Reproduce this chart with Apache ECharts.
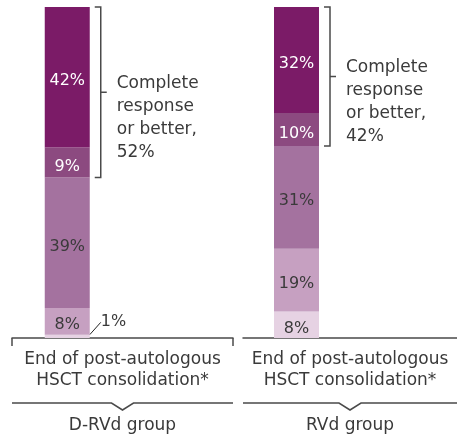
<!DOCTYPE html>
<html>
<head>
<meta charset="utf-8">
<script src="https://cdn.jsdelivr.net/npm/echarts@6/dist/echarts.min.js"></script>
<style>
  html, body { margin: 0; padding: 0; background: #fff; }
</style>
</head>
<body>
<div id="chart" style="width: 457px; height: 440px"></div>
<script>
// response levels, bottom of the bar first
const levels = ["Other", "Partial response", "Very good partial response", "Complete response", "Stringent complete response"];
const levelColors = ["#e6d2e3", "#c6a0c1", "#a4729f", "#8c4a80", "#7b1b67"];
const levelTextColors = ["#3a3a3a", "#3a3a3a", "#3a3a3a", "#ffffff", "#ffffff"];

const timepoint = "End of post-autologous\nHSCT consolidation*";
const groups = ["D-RVd group", "RVd group"];
// values per group, same order as levels (bottom first)
const dRVdValues = [1, 8, 39, 9, 42];
const rvdValues = [8, 19, 31, 10, 32];
const groupValues = [dRVdValues, rvdValues];
// bracket text (complete response or better)
const crLabels = ["Complete\nresponse\nor better,\n52%", "Complete\nresponse\nor better,\n42%"];

const FONT = "DejaVu Sans";
const TEXT = "#3a3a3a";
const LINE = "#4a4a4a";
const grids = [
  { left: 12, right: 224, top: 7, bottom: 102, outerBoundsMode: "none" },
  { left: 243, right: 0, top: 7, bottom: 102, outerBoundsMode: "none" }
];
const BAR_W = 45;

const xAxis = [];
const yAxis = [];
const series = [];
groups.forEach((g, gi) => {
  const total = groupValues[gi].reduce((a, b) => a + b, 0);
  // bar sits in the first half of the group's axis
  xAxis.push({
    type: "category", gridIndex: gi, data: [timepoint, ""],
    axisLine: { lineStyle: { color: LINE, width: 1.5 } },
    axisTick: { show: false }, axisLabel: { show: false },
    name: timepoint, nameLocation: "middle", nameGap: 11,
    nameTextStyle: { fontFamily: FONT, fontSize: 17, color: TEXT, lineHeight: 21 }
  });
  yAxis.push({ type: "value", gridIndex: gi, min: 0, max: total, show: false });
  levels.forEach((lv, li) => {
    const v = groupValues[gi][li];
    const small = v < 3;
    const s = {
      name: lv, type: "bar", stack: "g" + gi,
      xAxisIndex: gi, yAxisIndex: gi, barWidth: BAR_W,
      data: [v, null],
      itemStyle: { color: levelColors[li] },
      label: {
        show: true, position: small ? "right" : "inside",
        formatter: "{c}%", fontFamily: FONT, fontSize: 16,
        color: small ? TEXT : levelTextColors[li], offset: [0, 4]
      }
    };
    if (small) {
      s.labelLayout = { dx: 6, dy: -14 };
      s.labelLine = { show: true, length2: 0, lineStyle: { color: "#222", width: 1 } };
    }
    series.push(s);
  });
});
// second axis per grid just to carry the group name
groups.forEach((g, gi) => {
  xAxis.push({
    type: "category", gridIndex: gi, data: [""], position: "bottom", offset: 65,
    axisLine: { show: false }, axisTick: { show: false }, axisLabel: { show: false },
    name: g, nameLocation: "middle", nameGap: 14,
    nameTextStyle: { fontFamily: FONT, fontSize: 17, color: TEXT }
  });
});

const myChart = echarts.init(document.getElementById("chart"), null, { renderer: "canvas" });
myChart.setOption({
  animation: false,
  grid: grids,
  xAxis: xAxis,
  yAxis: yAxis,
  series: series
});

// brackets, axis end ticks and braces
const W = 457, H = 440;
const graphic = [];
groups.forEach((g, gi) => {
  const vals = groupValues[gi];
  const total = vals.reduce((a, b) => a + b, 0);
  const crStart = vals[0] + vals[1] + vals[2];
  const cx = myChart.convertToPixel({ xAxisIndex: gi }, timepoint);
  const yTop = myChart.convertToPixel({ yAxisIndex: gi }, total);
  const yBot = myChart.convertToPixel({ yAxisIndex: gi }, crStart);
  const bx = cx + BAR_W / 2 + 11;
  const ym = (yTop + yBot) / 2;
  graphic.push({
    type: "polyline", silent: true,
    shape: { points: [[bx - 6, yTop], [bx, yTop], [bx, yBot], [bx - 6, yBot]] },
    style: { stroke: LINE, lineWidth: 1.5, fill: null }
  });
  graphic.push({
    type: "line", silent: true,
    shape: { x1: bx, y1: ym, x2: bx + 6, y2: ym },
    style: { stroke: LINE, lineWidth: 1.5 }
  });
  graphic.push({
    type: "text", silent: true, x: bx + 16, y: ym - 20,
    style: { text: crLabels[gi], fontFamily: FONT, fontSize: 17, lineHeight: 23, fill: TEXT, verticalAlign: "top" }
  });
  // axis end ticks and group brace
  const gl = grids[gi].left, gr = W - grids[gi].right;
  const axisY = H - grids[gi].bottom;
  const mid = (gl + gr) / 2;
  if (gi === 0) {
    [gl, gr].forEach(x => graphic.push({
      type: "line", silent: true,
      shape: { x1: x, y1: axisY, x2: x, y2: axisY + 8 },
      style: { stroke: LINE, lineWidth: 1.5 }
    }));
  }
  const by = axisY + 65;
  graphic.push({
    type: "polyline", silent: true,
    shape: { points: [[gl, by], [mid - 11, by], [mid, by + 7], [mid + 11, by], [gr, by]] },
    style: { stroke: LINE, lineWidth: 1.5, fill: null }
  });
});
myChart.setOption({ graphic: graphic });
</script>
</body>
</html>
